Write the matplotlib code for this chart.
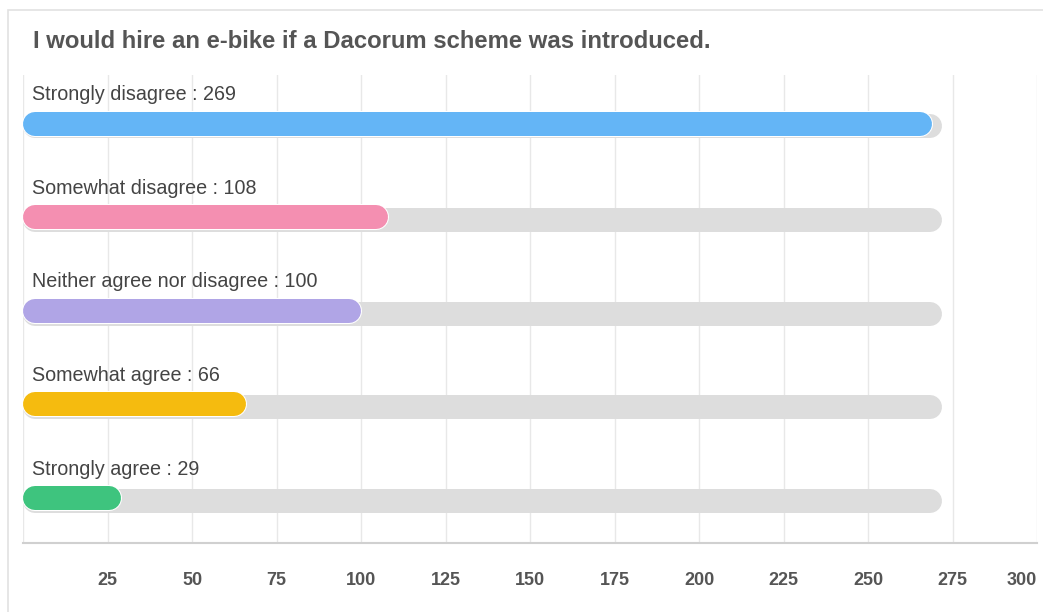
import matplotlib.pyplot as plt
from matplotlib.patches import Rectangle

plt.rcParams['font.family'] = ['Liberation Sans', 'DejaVu Sans']

# survey answers, top to bottom
categories = ['Strongly disagree', 'Somewhat disagree', 'Neither agree nor disagree',
              'Somewhat agree', 'Strongly agree']
counts = [269, 108, 100, 66, 29]
colors = ['#64b5f6', '#f48fb1', '#b0a5e6', '#f5bb0f', '#3ec47e']
ticks = [25, 50, 75, 100, 125, 150, 175, 200, 225, 250, 275, 300]
track_max = 272

W, H = 1043, 612
fig = plt.figure(figsize=(W / 100, H / 100), dpi=100)

# outer card border
fig.patches.append(Rectangle((8 / W, -0.1), 1.2, (H - 10) / H + 0.1, transform=fig.transFigure,
                             facecolor='white', edgecolor='#e2e2e2', linewidth=1.2, zorder=-10))

fig.text(33 / W, 1 - 42 / H, 'I would hire an e-bike if a Dacorum scheme was introduced.',
         fontsize=17.2, fontweight='bold', color='#555555', va='center', ha='left')

left, right, top, bottom = 23, 1037, 75, 543
ax = fig.add_axes([left / W, 1 - bottom / H, (right - left) / W, (bottom - top) / H])
ax.set_xlim(0, 300)
ax.set_ylim(4.48, -0.52)
ax.set_facecolor('none')

for t in [0] + ticks:
    ax.axvline(t, color='#e8e8e8', linewidth=1, zorder=0)

# bar thickness in px -> points and cap radius in data units
bar_px = 24
lw = bar_px * 72 / 100
r = (bar_px / 2) * 300 / (right - left)

for i, (cat, n, c) in enumerate(zip(categories, counts, colors)):
    ax.plot([r, track_max - r], [i + 0.03, i + 0.03], color='#dddddd', linewidth=lw,
             solid_capstyle='round', zorder=1)
    ax.plot([r, n - r], [i, i], color='white', linewidth=lw + 1.5,
             solid_capstyle='round', zorder=2)
    ax.plot([r, n - r], [i, i], color=c, linewidth=lw,
             solid_capstyle='round', zorder=3)
    ax.text(2.8, i - 0.31, f'{cat} : {n}', fontsize=14.2, color='#444444',
            va='center', ha='left', zorder=4)

for s in ['top', 'right', 'left']:
    ax.spines[s].set_visible(False)
ax.spines['bottom'].set_color('#d0d0d0')
ax.spines['bottom'].set_linewidth(1.5)
ax.set_yticks([])
ax.set_xticks(ticks)
ax.set_xticklabels([str(t) for t in ticks], fontsize=13, fontweight='bold', color='#555555')
ax.get_xticklabels()[-1].set_ha('right')
ax.tick_params(axis='x', length=0, pad=21)

fig.savefig('out.png', dpi=100)
